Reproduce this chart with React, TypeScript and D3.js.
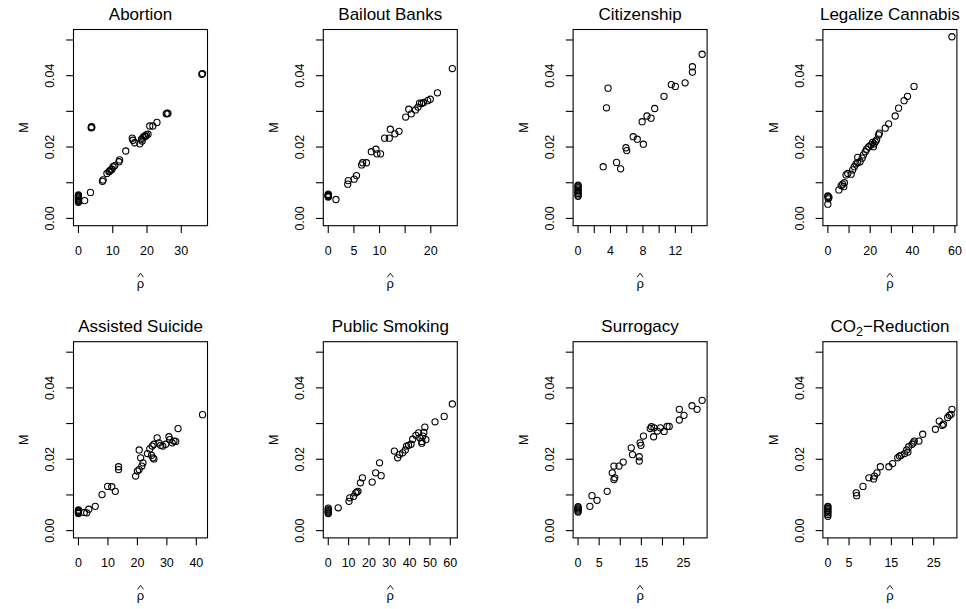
import React from "react";
import * as d3 from "d3";

const W = 966;
const H = 609;

const titles = ["Abortion", "Bailout Banks", "Citizenship", "Legalize Cannabis", "Assisted Suicide", "Public Smoking", "Surrogacy", "CO2-Reduction"];

const abortionRho = [0,0,0,0,0,0,0,0,0,0, 1.8,3.5,3.7,3.8,3.9, 7.0,7.2, 8.3,8.9,9.1,9.4,9.8,10.1,10.6, 11.8,12.0,13.8, 15.7,15.9,16.4,17.9,18.4,18.6,18.9,19.3,19.6,19.8,20.3, 20.8,21.7,22.9, 25.6,25.9,26.1, 36.0,36.2];
const abortionM = [0.0045,0.0048,0.005,0.0052,0.0055,0.0057,0.006,0.0062,0.0064,0.0066, 0.005,0.0073,0.0254,0.0257,0.0255, 0.0104,0.0108, 0.0126,0.0131,0.0133,0.0136,0.0138,0.0145,0.0148, 0.0159,0.0164,0.0189, 0.0225,0.0219,0.0212,0.0209,0.0222,0.0217,0.0228,0.0231,0.023,0.0234,0.0236, 0.0259,0.0259,0.0269, 0.0293,0.0295,0.0294, 0.0404,0.0406];

const bailoutRho = [0,0,0,0,0,0, 1.5, 3.8,3.9, 5.05,5.5, 6.5,6.7,7.45, 8.4,9.3,9.5,10.2, 11.0,11.9,12.1,13.0,13.8, 15.1,15.7,16.2,17.0,17.5,17.8, 18.2,18.6,19.4,19.9, 21.3, 24.2];
const bailoutM = [0.006,0.0062,0.0064,0.0066,0.0068,0.0063, 0.0053, 0.0096,0.0106, 0.011,0.012, 0.015,0.0156,0.0156, 0.0187,0.0194,0.0181,0.0181, 0.0225,0.0225,0.025,0.0237,0.0244, 0.0284,0.0306,0.0293,0.0304,0.0312,0.0323, 0.0322,0.0325,0.033,0.0334, 0.0352, 0.042];

const citizenshipRho = [0,0,0,0,0,0,0,0,0, 3.1,3.5,3.7,4.75,5.25,5.9,6.0,6.8,7.3,8.05,7.9,8.5,9.0,9.45,10.6, 11.5,12.0,13.2,14.1,14.1,15.3];
const citizenshipM = [0.0062,0.0066,0.007,0.0074,0.0078,0.0082,0.0086,0.009,0.0093, 0.0145,0.031,0.0365,0.0157,0.0139,0.0198,0.019,0.0229,0.0222,0.0208,0.0271,0.0287,0.0281,0.0308,0.0342, 0.0375,0.037,0.038,0.0425,0.041,0.046];

const cannabisRho = [0,0.5,0,0.2,0, 5.2,6.3,7.0,7.8,7.5, 8.6,9.4,11.0,11.7, 12.5,13.3,14.1,14.1,15.2,16.2, 16.8,17.7,18.3,19.3,20.4,21.1,21.9,21.5,22.4,23.0, 24.0,24.3, 27.1,28.7, 31.8,33.4,36.0,37.6, 40.7, 58.6];
const cannabisM = [0.0063,0.0059,0.004,0.0055,0.0061, 0.008,0.0092,0.0096,0.01,0.0089, 0.0122,0.0126,0.0124,0.0136, 0.0145,0.0153,0.0156,0.0171,0.0159,0.0169, 0.0178,0.0187,0.0194,0.0201,0.0206,0.0213,0.0209,0.0201,0.0215,0.022, 0.0234,0.0239, 0.0253,0.0265, 0.0287,0.0309,0.033,0.0342, 0.037, 0.0509];

const suicideRho = [0,0,0,0,0,0, 2.0,2.8,3.5,5.7, 8.0, 9.9,11.3,12.5, 13.6,13.6, 19.4,20.0,20.6,21.5,21.9,21.1,20.6, 23.4,24.2,25.0,25.6,25.3,25.6,24.8, 26.7,27.3,27.9,28.6,29.6,30.7,31.8,32.4,33.8, 31.0,33.0, 42.1];
const suicideM = [0.0048,0.005,0.0052,0.0054,0.0056,0.0058, 0.0051,0.005,0.006,0.0068, 0.0101, 0.0124,0.0123,0.011, 0.0179,0.0171, 0.0153,0.0167,0.0171,0.0181,0.019,0.0204,0.0226, 0.0216,0.0229,0.0237,0.0242,0.0204,0.0201,0.0211, 0.026,0.0246,0.0239,0.0237,0.0242,0.0263,0.0246,0.0251,0.0286, 0.0255,0.025, 0.0325];

const smokingRho = [0,0,0,0,0,0, 4.9, 10.2,10.6,12.5,13.5,14.1,14.6, 15.8,16.8, 21.6,23.3,25.2,26.0, 32.5,34.1,35.0,36.6,37.9,38.5,39.5,40.7,41.5,43.1,44.4, 45,46,46.5,47,47.5,48,46, 52.5,57,61];
const smokingM = [0.0048,0.005,0.0053,0.0056,0.0059,0.0063, 0.0064, 0.0082,0.0092,0.0096,0.0106,0.0108,0.011, 0.0134,0.0148, 0.0136,0.0162,0.019,0.0154, 0.0223,0.0204,0.0213,0.0218,0.0226,0.0237,0.0239,0.0242,0.0256,0.0267,0.0274, 0.026,0.025,0.0265,0.0275,0.029,0.0255,0.0245, 0.0305,0.032,0.0355];

const surrogacyRho = [0,0,0,0,0,0, 2.8,3.3,4.5,6.9, 8.1,8.5,8.7,8.5,9.7,10.7, 12.6,12.9,14.5,14.5,14.9,14.7,15.5, 17.1,17.4,18.0,17.9,18.8,19.5, 20.4,21.1,21.6,24,24,25.1,27,28.2,29.4];
const surrogacyM = [0.0052,0.0055,0.0058,0.0061,0.0064,0.0067, 0.0068,0.0098,0.0085,0.011, 0.0162,0.0143,0.0148,0.0181,0.0181,0.0192, 0.0232,0.0213,0.0207,0.0195,0.0239,0.0246,0.0265, 0.0286,0.0291,0.0288,0.0263,0.0279,0.0288, 0.0278,0.0292,0.0292,0.031,0.034,0.0323,0.035,0.034,0.0365];

const co2Rho = [0,0,0,0,0,0,0,0, 6.7,6.8,8.3, 9.7,10.8,11.0,11.6,12.4, 14.4,15.3, 16.5,16.9,17.3,18.1,18.6,18.9,19.1, 19.9,20.4,20.2,21.5,22.4, 25.4,26.3,27.0,27.3,28.3,28.7,29.1,29.3];
const co2M = [0.004,0.0045,0.005,0.0054,0.0058,0.0062,0.0066,0.0068, 0.0106,0.0098,0.0124, 0.0148,0.0145,0.0153,0.0162,0.0179, 0.0179,0.0188, 0.0204,0.0209,0.0211,0.0216,0.0226,0.022,0.0235, 0.0242,0.0251,0.0246,0.0251,0.027, 0.0284,0.0307,0.0295,0.0298,0.0317,0.0323,0.0326,0.034];

const rhoSeries = [abortionRho, bailoutRho, citizenshipRho, cannabisRho, suicideRho, smokingRho, surrogacyRho, co2Rho];
const mSeries = [abortionM, bailoutM, citizenshipM, cannabisM, suicideM, smokingM, surrogacyM, co2M];

const xTicks = [
  [0, 10, 20, 30],
  [0, 5, 10, 15, 20],
  [0, 2, 4, 6, 8, 10, 12, 14],
  [0, 10, 20, 30, 40, 50, 60],
  [0, 10, 20, 30, 40],
  [0, 10, 20, 30, 40, 50, 60],
  [0, 5, 10, 15, 20, 25],
  [0, 5, 10, 15, 20, 25],
];
const xTickLabels = [
  [0, 10, 20, 30],
  [0, 5, 10, 20],
  [0, 4, 8, 12],
  [0, 20, 40, 60],
  [0, 10, 20, 30, 40],
  [0, 10, 20, 30, 40, 50, 60],
  [0, 5, 15, 25],
  [0, 5, 15, 25],
];

const yLim = [0, 0.0509];
const yTicks = [0, 0.01, 0.02, 0.03, 0.04, 0.05];
const yTickLabels = ["0.00", "0.02", "0.04"];
const yLabel = "M";
const xLabel = "ρ";

const FONT = "'Liberation Sans', Arial, Helvetica, sans-serif";

function Title({ text, cx, y }: { text: string; cx: number; y: number }) {
  if (text.startsWith("CO2")) {
    return (
      <text x={cx} y={y} textAnchor="middle" fontSize={17} fontFamily={FONT}>
        CO<tspan dy={4} fontSize={12.5}>2</tspan><tspan dy={-4}>−Reduction</tspan>
      </text>
    );
  }
  return (
    <text x={cx} y={y} textAnchor="middle" fontSize={17} fontFamily={FONT}>
      {text}
    </text>
  );
}

function Panel({ i }: { i: number }) {
  const col = i % 4;
  const row = Math.floor(i / 4);
  const left = 73.5 + 249.8 * col;
  const top = 29.5 + 312.2 * row;
  const w = 134;
  const h = 196.2;
  const rho = rhoSeries[i];
  const m = mSeries[i];
  const [x0, x1] = d3.extent(rho) as [number, number];
  const dx = (x1 - x0) * 0.04;
  const x = d3.scaleLinear().domain([x0 - dx, x1 + dx]).range([left, left + w]);
  const dy = (yLim[1] - yLim[0]) * 0.04;
  const y = d3.scaleLinear().domain([yLim[0] - dy, yLim[1] + dy]).range([top + h, top]);
  const cx = left + w / 2;
  const bottom = top + h;
  const tl = 7.3;
  return (
    <g>
      <Title text={titles[i]} cx={cx} y={top - 10} />
      <rect x={left} y={top} width={w} height={h} fill="none" stroke="#000" strokeWidth={1.1} />
      {yTicks.map((t) => (
        <line key={"yt" + t} x1={left - tl} x2={left} y1={y(t)} y2={y(t)} stroke="#000" strokeWidth={1.1} />
      ))}
      {yTickLabels.map((s) => (
        <text
          key={"yl" + s}
          transform={`translate(${left - 19.3},${y(+s)}) rotate(-90)`}
          textAnchor="middle"
          fontSize={12.5}
          fontFamily={FONT}
        >
          {s}
        </text>
      ))}
      {xTicks[i].map((t) => (
        <line key={"xt" + t} x1={x(t)} x2={x(t)} y1={bottom} y2={bottom + tl} stroke="#000" strokeWidth={1.1} />
      ))}
      {xTickLabels[i].map((t) => (
        <text key={"xl" + t} x={x(t)} y={bottom + 29.5} textAnchor="middle" fontSize={12.5} fontFamily={FONT}>
          {t}
        </text>
      ))}
      <text
        transform={`translate(${left - 45.2},${top + h / 2}) rotate(-90)`}
        textAnchor="middle"
        fontSize={12.5}
        fontFamily={FONT}
      >
        {yLabel}
      </text>
      <text x={cx} y={bottom + 62} textAnchor="middle" fontSize={13} fontFamily={FONT}>
        {xLabel}
      </text>
      <path
        d={`M${cx - 3},${bottom + 51.5} L${cx},${bottom + 47.5} L${cx + 3},${bottom + 51.5}`}
        fill="none"
        stroke="#000"
        strokeWidth={0.9}
      />
      {rho.map((r, k) => (
        <circle key={k} cx={x(r)} cy={y(m[k])} r={3.1} fill="none" stroke="#000" strokeWidth={1.1} />
      ))}
    </g>
  );
}

export default function App() {
  return (
    <svg width={W} height={H} viewBox={`0 0 ${W} ${H}`} style={{ display: "block", position: "absolute", left: 0, top: 0, background: "#fff" }}>
      <rect x={0} y={0} width={W} height={H} fill="#fff" />
      {titles.map((_, i) => (
        <Panel key={i} i={i} />
      ))}
    </svg>
  );
}
